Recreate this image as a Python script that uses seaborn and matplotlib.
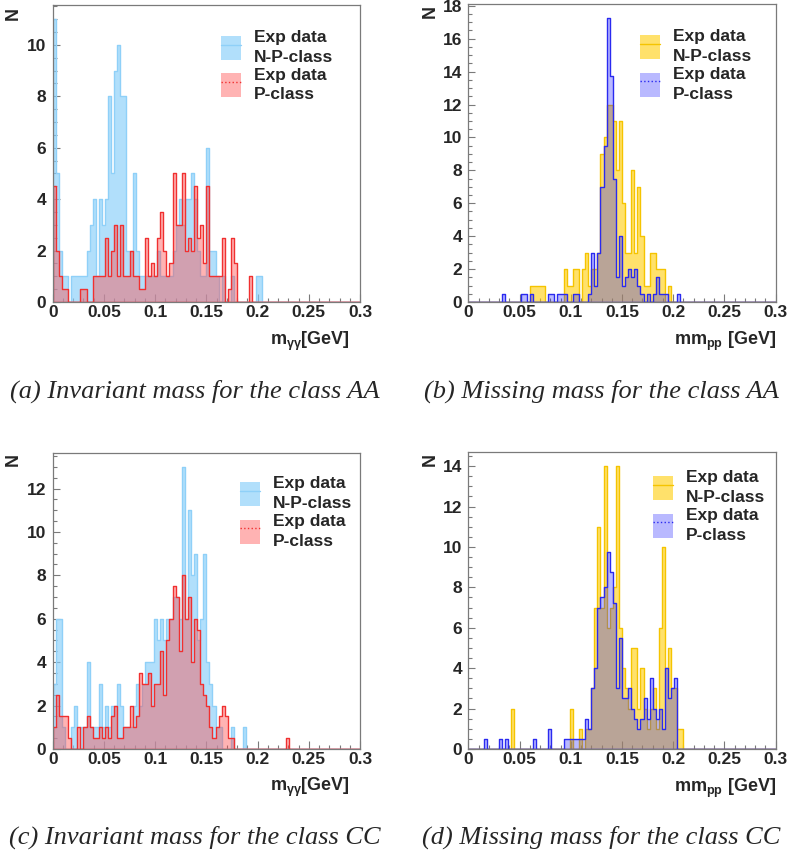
import numpy as np
import pandas as pd
import matplotlib
matplotlib.use("Agg")
import matplotlib.pyplot as plt
import seaborn as sns
from matplotlib.patches import Patch
from matplotlib.lines import Line2D
from matplotlib.ticker import MultipleLocator, FuncFormatter

sns.set_theme(style="white")
plt.rcParams["font.family"] = ["Liberation Sans", "DejaVu Sans"]
plt.rcParams["font.weight"] = "bold"
plt.rcParams["mathtext.fontset"] = "custom"
plt.rcParams["mathtext.rm"] = "Liberation Sans"
plt.rcParams["mathtext.it"] = "Liberation Sans"
plt.rcParams["mathtext.bf"] = "Liberation Sans:bold"

# 100 bins of 3 MeV between 0 and 0.3 GeV
BIN_WIDTH = 0.003
MASS_RANGE = (0.0, 0.3)
bin_centers = np.arange(100) * BIN_WIDTH + BIN_WIDTH / 2

# ---- class AA, invariant mass m_gg ----
inv_aa_np = [11, 5, 2, 1, 1, 0, 1, 1, 1, 1,
             1, 2, 3, 4, 1, 4, 3, 4, 8, 5,
             9, 10, 8, 8, 2, 2, 5, 2, 1, 1,
             1, 1, 1, 1, 2, 1, 1, 1, 1, 2,
             3, 4, 3, 4, 4, 5, 4, 2, 1, 1,
             6, 2, 2, 1, 0, 1, 0, 0, 1, 0,
             0, 0, 0, 0, 0, 0, 1, 1]
inv_aa_p = [4.5, 2, 1, 0.5, 0.5, 0, 0, 0, 0, 0.5,
            0.5, 0, 0, 1, 1, 1, 1, 2.5, 1, 2,
            3, 1, 3, 1, 1, 2, 1, 1, 0.5, 0.5,
            2.5, 1, 1.5, 1, 2.5, 3.5, 2, 1, 1.5, 5,
            3, 3, 5, 2, 2.5, 2, 4.5, 2.5, 3, 1.5,
            4.5, 1, 1, 1, 1, 2.5, 0, 0.5, 2.5, 1.5,
            0, 0, 0, 0, 1]

# ---- class AA, missing mass mm_pp ----
mis_aa_np = [0, 0, 0, 0, 0, 0, 0, 0, 0, 0,
             0, 0, 0, 0, 0, 0, 0, 0, 0, 0,
             1, 1, 1, 1, 1, 0, 0, 0, 0, 0,
             0, 2, 1, 1, 2, 2, 0, 2, 3, 1,
             2, 2, 3, 9, 10, 12, 12, 11, 8, 11,
             6, 3, 3, 8, 3, 7, 4, 1, 1, 3,
             3, 2, 2, 2, 0, 1]
mis_aa_p = [0, 0, 0, 0, 0, 0, 0, 0, 0, 0,
            0, 0.5, 0, 0, 0, 0, 0, 0.5, 0.5, 0,
            0.5, 0, 0, 0, 0, 0, 0.5, 0.5, 0, 0.5,
            0.5, 0.5, 0, 0, 0.5, 0.5, 0, 0, 0, 0.5,
            3, 1, 3, 7, 9.5, 17.25, 13.75, 7.5, 1.5, 4,
            1, 1.5, 2, 1.5, 2, 1, 0.5, 0, 0.5, 0,
            0.5, 1.5, 0.5, 0.5, 0.5, 0, 0, 0, 0.5]

# ---- class CC, invariant mass m_gg ----
inv_cc_np = [3, 6, 6, 1, 0, 0, 1, 2, 0, 1,
             1, 4, 1, 1, 1, 3, 1, 2, 1, 2,
             2, 3, 2, 1, 1, 1, 2, 3, 2, 3,
             4, 4, 4, 6, 5, 6, 5, 6, 6, 7,
             7, 6, 13, 6, 11, 8, 9, 5, 6, 9,
             4, 3, 2, 1, 1, 0, 0, 0, 1, 0,
             0, 0, 1]
inv_cc_p = [1, 2.5, 1.5, 1.5, 1.5, 0.5, 0, 0, 1, 0,
            1, 1.5, 1, 0.5, 0.5, 1, 0.5, 1, 0.5, 1.5,
            2, 0.5, 0.5, 1, 1, 2, 1, 1.5, 3.5, 3,
            3, 3.5, 2, 3, 3, 4.5, 2.5, 5, 6, 7.5,
            7, 4.5, 8, 6, 7, 4, 6, 5.5, 3, 2.5,
            2, 1, 0.5, 1, 1.5, 2, 1.5, 0.5, 0.5, 0,
            0, 0, 0, 0, 0, 0, 0, 0, 0, 0,
            0, 0, 0, 0, 0, 0, 0.5]

# ---- class CC, missing mass mm_pp ----
mis_cc_np = [0, 0, 0, 0, 0, 0, 0, 0, 0, 0,
             0, 0, 0, 0, 2, 0, 0, 0, 0, 0,
             0, 0, 0, 0, 0, 0, 0, 0, 0, 0,
             0, 0, 0, 2, 0, 0, 1, 0, 1, 1,
             3, 7, 11, 7, 14, 6, 7, 8, 14, 6,
             4, 3, 2, 5, 5, 2, 4, 2, 1, 2,
             3, 1, 6, 10, 4, 5, 3, 3, 1, 1]
mis_cc_p = [0, 0, 0, 0, 0, 0.5, 0, 0, 0, 0,
            0.5, 0, 0.5, 0, 0, 0, 0, 0, 0, 0,
            0, 0.5, 0, 0, 0, 0, 1, 0, 0, 0,
            0, 0.5, 0.5, 0.5, 0.5, 0.5, 0.5, 0.5, 1.5, 1,
            3, 4, 7, 7.5, 8, 9.75, 8.75, 7.25, 3, 5.5,
            2.5, 2.5, 3, 2, 1.5, 1, 1.5, 2.5, 1.5, 3.5,
            2, 1.5, 2, 1, 4, 2.5, 3, 3.5]

legend_labels = ["Exp data\nN-P-class", "Exp data\nP-class"]
x_labels = [r"m$_{\gamma\gamma}$[GeV]", r"mm$_{\rm pp}$ [GeV]"]
captions = ["(a) Invariant mass for the class AA", "(b) Missing mass for the class AA",
            "(c) Invariant mass for the class CC", "(d) Missing mass for the class CC"]
y_tops = [11.55, 18.11, 13.65, 14.7]

# colour schemes: (fill, fill alpha, edge colour, legend line style)
sky = ("#87cefa", 0.65, "#8fd0f8", "-")
rose = ("#ff4a4a", 0.42, "#f03030", ":")
gold = ("#ffcc00", 0.58, "#f5c400", "-")
violet = ("#1a1aff", 0.30, "#2a2af0", ":")


def counts(values):
    arr = np.zeros(len(bin_centers))
    arr[:len(values)] = values
    return arr


def draw_class(ax, values, style):
    fill, alpha, edge, _ = style
    df = pd.DataFrame({"mass": bin_centers, "events": counts(values)})
    sns.histplot(data=df, x="mass", weights="events", binwidth=BIN_WIDTH,
                 binrange=MASS_RANGE, element="step", fill=True, color=fill,
                 alpha=alpha, edgecolor=edge, linewidth=1.0, ax=ax)


W, H = 790, 856
fig = plt.figure(figsize=(W / 100, H / 100), dpi=100)


def axes_px(x0, x1, y0, y1):
    return fig.add_axes([x0 / W, 1 - y1 / H, (x1 - x0) / W, (y1 - y0) / H])


panels = [
    dict(ax=axes_px(52.7, 360.0, 5.0, 302.0), data=(inv_aa_np, inv_aa_p), styles=(sky, rose),
         xlabel=(x_labels[0], 0.9675), leg=(0.548, 0.915), cap=(195, 391), nlab=(13, 13)),
    dict(ax=axes_px(468.3, 775.7, 4.0, 302.0), data=(mis_aa_np, mis_aa_p), styles=(gold, violet),
         xlabel=(x_labels[1], 1.0), leg=(0.559, 0.915), cap=(601, 391), nlab=(430, 11)),
    dict(ax=axes_px(52.7, 360.0, 452.7, 749.0), data=(inv_cc_np, inv_cc_p), styles=(sky, rose),
         xlabel=(x_labels[0], 0.9675), leg=(0.610, 0.920), cap=(195, 837), nlab=(13, 459)),
    dict(ax=axes_px(468.3, 775.7, 452.0, 749.0), data=(mis_cc_np, mis_cc_p), styles=(gold, violet),
         xlabel=(x_labels[1], 1.0), leg=(0.601, 0.938), cap=(601, 837), nlab=(430, 459)),
]

frame_grey = "#7a7a7a"
for i, p in enumerate(panels):
    ax = p["ax"]
    for vals, st in zip(p["data"], p["styles"]):
        draw_class(ax, vals, st)
    ax.set_xlim(*MASS_RANGE)
    ax.set_ylim(0, y_tops[i])
    ax.set_xlabel("")
    ax.set_ylabel("")
    ax.xaxis.set_major_locator(MultipleLocator(0.05))
    ax.xaxis.set_minor_locator(MultipleLocator(0.01))
    ax.yaxis.set_major_locator(MultipleLocator(2))
    ax.yaxis.set_minor_locator(MultipleLocator(0.5))
    ax.xaxis.set_major_formatter(FuncFormatter(lambda v, _: f"{v:g}"))
    ax.tick_params(axis="both", which="both", direction="in", color=frame_grey,
                   bottom=True, left=True, top=False, right=False, labelsize=12.5)
    ax.tick_params(axis="x", which="major", length=5.8, width=0.8, pad=2.5)
    ax.tick_params(axis="x", which="minor", length=2.9, width=0.8)
    ax.tick_params(axis="y", which="major", length=5.0, width=0.8, pad=4.5)
    ax.tick_params(axis="y", which="minor", length=2.6, width=0.8)
    for sp in ax.spines.values():
        sp.set_color(frame_grey)
        sp.set_linewidth(0.9)
        sp.set_visible(True)

    label_text, label_x = p["xlabel"]
    ax.text(label_x, -0.131, label_text, transform=ax.transAxes, ha="right", va="center",
            fontsize=13, fontweight="bold")

    handles = []
    for st in p["styles"]:
        fill, alpha, edge, ls = st
        handles.append((Patch(facecolor=fill, alpha=alpha, edgecolor="none"),
                        Line2D([], [], color=edge, lw=1.0, ls=ls)))
    leg = ax.legend(handles, legend_labels, loc="upper left", bbox_to_anchor=p["leg"],
                    frameon=False, handlelength=1.15, handleheight=1.75, handletextpad=0.75,
                    labelspacing=0.15, borderaxespad=0, borderpad=0,
                    prop={"weight": "bold", "size": 12.5})
    for t in leg.get_texts():
        t.set_linespacing(1.4)

    fig.text(p["nlab"][0] / W, 1 - p["nlab"][1] / H, "N", rotation=90, ha="center",
             va="center", fontsize=13, fontweight="bold")
    fig.text(p["cap"][0] / W, 1 - p["cap"][1] / H, captions[i], ha="center", va="center",
             fontfamily="Liberation Serif", fontstyle="italic", fontweight="normal",
             fontsize=19)

fig.savefig("out.png", dpi=100)
